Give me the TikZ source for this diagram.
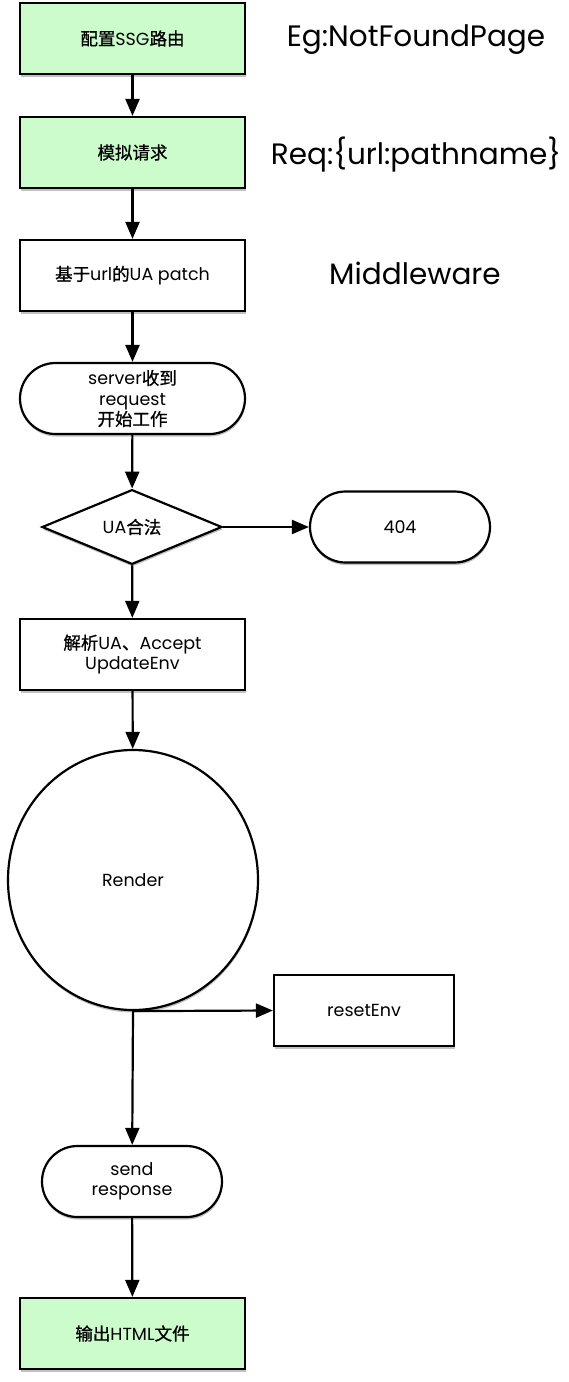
\documentclass[tikz,border=0pt]{standalone}
\usepackage{fontspec}
\setmainfont{Poppins}
\newfontfamily\cjk{Noto Sans CJK SC}[FakeBold=1.0]
\newcommand\zh[1]{{\cjk #1}}
\usetikzlibrary{shapes.geometric,shapes.misc,arrows.meta,shadows}
\definecolor{lgreen}{HTML}{CCFCCB}
\tikzset{
  base/.style={draw=black, line width=2.2pt, align=center, inner sep=0pt,
    font=\fontsize{17.5}{20.5}\selectfont,
    drop shadow={shadow xshift=0.5pt, shadow yshift=-2.5pt, opacity=0.35, fill=black!70}},
  boxw/.style={base, rectangle, minimum width=225pt, minimum height=71pt, fill=white},
  boxg/.style={boxw, fill=lgreen},
  term/.style={base, rounded rectangle, rounded rectangle arc length=180, fill=white},
  dia/.style={base, diamond, minimum width=180pt, minimum height=71pt, fill=white},
  ell/.style={base, ellipse, minimum width=250pt, minimum height=260pt, fill=white},
  note/.style={font=\fontsize{29.5}{33}\selectfont, inner sep=0pt},
  arr/.style={line width=2.2pt, -{Triangle[length=17pt,width=14pt]}}
}
\begin{document}
\begin{tikzpicture}[x=1pt,y=1pt]
\useasboundingbox (0,0) rectangle (568,-1382);
\node[boxg] (cfg) at (132.5,-38.5) {\zh{配置}SSG\zh{路由}};
\node[boxg] (mock) at (132.5,-152.5) {\zh{模拟请求}};
\node[boxw] (patch) at (132.5,-275.5) {\zh{基于}url\zh{的}UA patch};
\node[term, minimum width=225pt, minimum height=71pt] (server) at (132.5,-398.5) {server\zh{收到}\\request\\\zh{开始工作}};
\node[dia] (ua) at (132,-527) {UA\zh{合法}};
\node[term, minimum width=180pt, minimum height=71pt] (nf) at (400,-527) {404};
\node[boxw] (parse) at (132.5,-654.5) {\zh{解析}UA\zh{、}Accept\\UpdateEnv};
\node[ell] (render) at (133,-880) {Render};
\node[boxw, minimum width=180pt] (reset) at (364,-1010.5) {resetEnv};
\node[term, minimum width=180pt, minimum height=71pt] (send) at (132,-1181.5) {send\\response};
\node[boxg] (out) at (132.5,-1333.5) {\zh{输出}HTML\zh{文件}};

\node[note] (n1) at (416,-40) {Eg:NotFoundPage};
\node[note] (n2) at (416,-155) {Req:\{url:pathname\}};
\node[note] (n3) at (415,-273) {Middleware};

\draw[arr] (cfg) -- (mock);
\draw[arr] (mock) -- (patch);
\draw[arr] (patch) -- (server);
\draw[arr] (server) -- (ua);
\draw[arr] (ua) -- (nf);
\draw[arr] (ua) -- (parse);
\draw[arr] (parse) -- (render);
\draw[arr] (render.south) -- (reset.west);
\draw[arr] (render.south) -- (send);
\draw[arr] (send) -- (out);
\end{tikzpicture}
\end{document}
